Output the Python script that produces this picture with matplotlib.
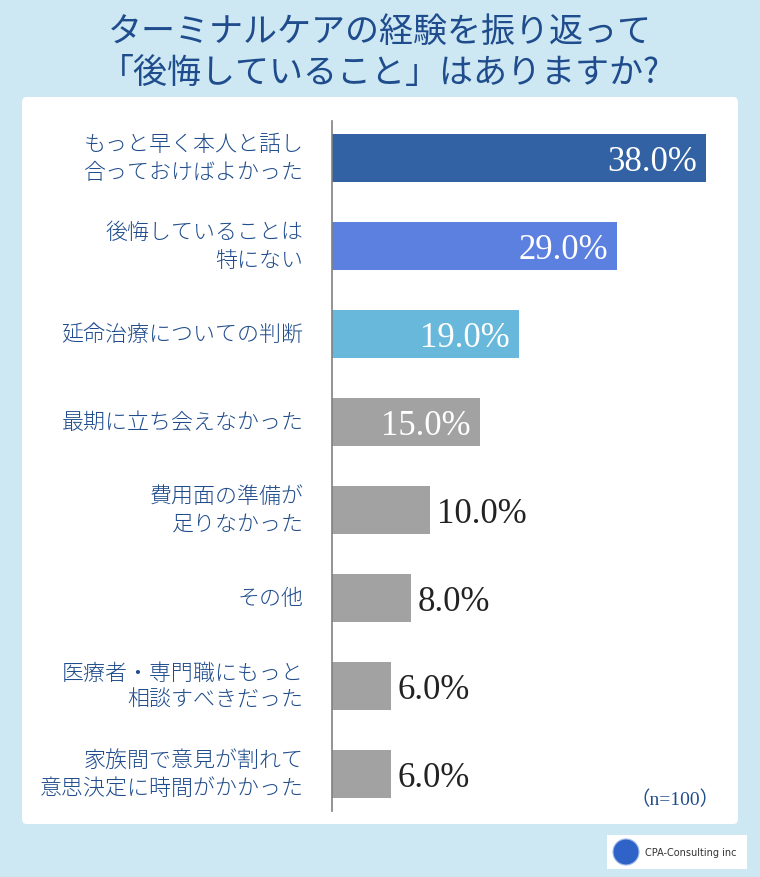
import matplotlib
matplotlib.use("Agg")
import matplotlib.pyplot as plt
from matplotlib.patches import FancyBboxPatch, Rectangle, Ellipse

# Data
labels = [
    "もっと早く本人と話し\n合っておけばよかった",
    "後悔していることは\n特にない",
    "延命治療についての判断",
    "最期に立ち会えなかった",
    "費用面の準備が\n足りなかった",
    "その他",
    "医療者・専門職にもっと\n相談すべきだった",
    "家族間で意見が割れて\n意思決定に時間がかかった",
]
values = [38.0, 29.0, 19.0, 15.0, 10.0, 8.0, 6.0, 6.0]
colors = ["#3262a3", "#5b80e0", "#68b8dc", "#a2a2a2", "#a2a2a2", "#a2a2a2", "#a2a2a2", "#a2a2a2"]
title = "ターミナルケアの経験を振り返って\n「後悔していること」はありますか?"
note = "（n=100）"

W, H = 760, 878
plt.rcParams['font.family'] = ['Noto Sans CJK JP', 'DejaVu Sans']
fig = plt.figure(figsize=(W / 100, H / 100), dpi=100)
fig.patch.set_facecolor("#cde8f3")

text_blue = "#1f4c8c"

# white panel
fig.patches.append(FancyBboxPatch((22 / W, 1 - 825 / H), 716 / W, 727 / H,
                                  boxstyle="round,pad=0,rounding_size=0.006",
                                  transform=fig.transFigure, facecolor="white",
                                  edgecolor="none", zorder=-2))

fig.text(0.5, 1 - 53 / H, title, ha="center", va="center", fontsize=24.5,
         color=text_blue, linespacing=1.25)

# axes: x 332 -> 0, 9.84 px per %
ax = fig.add_axes([332 / W, 1 - 812 / H, 394 / W, 690 / H])
ax.set_facecolor("none")
ax.set_xlim(0, 394 / 9.84)
n = len(values)
# top of axes at y=122, first bar centre at 159, pitch 88
ax.set_ylim(690 / 88 - 37 / 88, -37 / 88)
pos = list(range(n))
ax.barh(pos, values, height=48 / 88, color=colors, edgecolor="none", zorder=2)

for i, v in enumerate(values):
    txt = f"{v:.1f}%"
    if i < 4:
        ax.text(v - 0.9, i + 0.04, txt, ha="right", va="center", fontsize=25,
                color="white", family="Liberation Serif", zorder=3)
    else:
        ax.text(v + 0.7, i + 0.04, txt, ha="left", va="center", fontsize=25,
                color="#222222", family="Liberation Serif", zorder=3)
    ax.text(-2.9, i, labels[i], ha="right", va="center", fontsize=15.8,
            color=text_blue, linespacing=1.3, fontweight="light")

for s in ["top", "right", "bottom"]:
    ax.spines[s].set_visible(False)
ax.spines["left"].set_color("#808080")
ax.spines["left"].set_linewidth(1.2)
ax.set_xticks([])
ax.set_yticks([])

fig.text(720 / W, 1 - 800 / H, note, ha="right", va="center", fontsize=14,
         color=text_blue, family=["Liberation Serif", "Noto Sans CJK JP"])

# logo box
fig.patches.append(Rectangle((607 / W, 1 - 870 / H), 140 / W, 34 / H,
                             transform=fig.transFigure, facecolor="white",
                             edgecolor="none", zorder=-2))
fig.patches.append(Ellipse((626 / W, 1 - 853 / H), 26 / W, 26 / H,
                           transform=fig.transFigure, facecolor="#2f63c8",
                           edgecolor="#9ab6e8", linewidth=0.8, zorder=-1))
fig.text(645 / W, 1 - 853 / H, "CPA-Consulting inc", ha="left", va="center",
         fontsize=7, color="#333333", family="DejaVu Sans")

fig.savefig("out.png", dpi=100, facecolor=fig.get_facecolor())
